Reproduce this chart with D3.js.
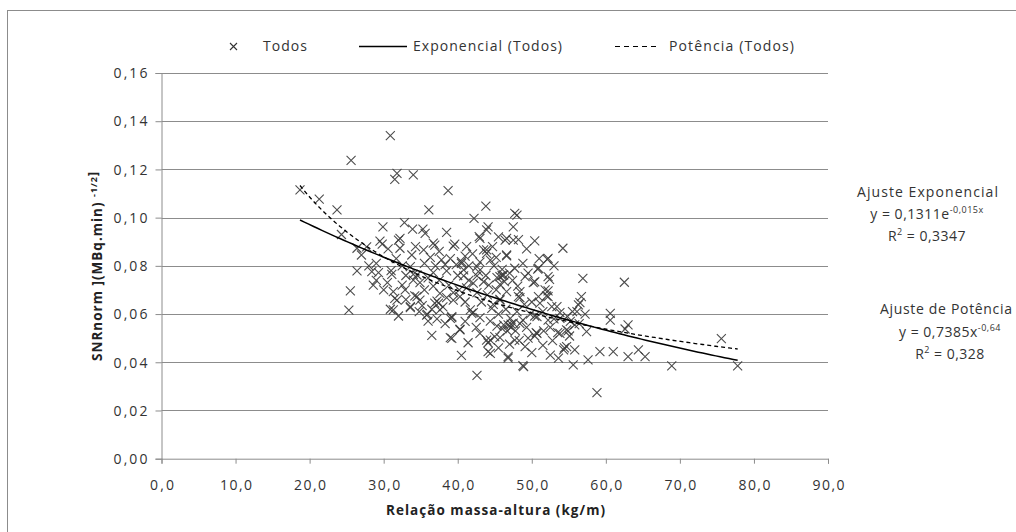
<!DOCTYPE html>
<html>
<head>
<meta charset="utf-8">
<script src="https://cdn.jsdelivr.net/npm/d3@7"></script>
<style>
  html, body { margin: 0; padding: 0; background: #fff; }
  svg { display: block; font-family: "Open Sans", "Noto Sans", sans-serif; }
</style>
</head>
<body>
<svg id="chart" width="1016" height="532"></svg>
<script>
// ---- Data ----
const xTicks = [0, 10, 20, 30, 40, 50, 60, 70, 80, 90];
const xTickLabels = ["0,0", "10,0", "20,0", "30,0", "40,0", "50,0", "60,0", "70,0", "80,0", "90,0"];
const yTicks = [0, 0.02, 0.04, 0.06, 0.08, 0.10, 0.12, 0.14, 0.16];
const yTickLabels = ["0,00", "0,02", "0,04", "0,06", "0,08", "0,10", "0,12", "0,14", "0,16"];

// massa-altura (kg/m)
const massaAltura = [
  18.7, 21.3, 23.7, 24.3, 25.6, 30.9, 31.8, 31.5, 34.0, 38.7, 36.1, 43.8, 42.2, 44.1, 43.9, 43.0,
  29.9, 32.8, 33.9, 35.3, 35.6, 38.5, 32.0, 29.5, 26.4, 27.7, 39.4, 36.9, 43.9, 46.4, 47.7, 48.0,
  47.5, 47.5, 50.4, 54.2, 52.2, 46.6, 48.2, 42.9, 32.2, 32.2, 39.6, 43.5, 35.4, 33.8, 36.7, 43.9,
  46.6, 52.1, 44.4, 40.5, 42.6, 46.6,
  26.4, 28.4, 29.3, 25.5, 25.3, 28.6, 31.1, 30.9, 32.0, 33.6, 36.5, 35.9, 36.0, 39.0, 40.3, 41.4,
  40.5, 42.6, 44.4, 44.1, 45.7, 39.2, 38.5, 37.2, 34.2, 34.9, 36.7, 39.4, 41.2, 42.6, 42.1, 43.0,
  44.4, 45.3, 45.7, 34.0, 36.7, 38.5, 40.8, 42.6, 45.3, 45.7,
  31.3, 31.5, 31.3, 34.9, 36.9, 37.6, 39.2, 43.9, 45.0, 46.8, 46.8,
  40.5, 45.7, 32.9, 33.6, 34.5, 34.0, 33.6, 34.5, 31.8,
  47.7, 50.9, 52.2, 46.0, 46.2, 49.1, 50.4, 40.8, 42.8, 42.1, 43.5, 48.4, 48.2, 50.9, 52.2, 51.1,
  52.7, 46.6, 45.7, 44.6, 39.4, 37.4, 35.8, 39.2, 47.1, 47.5, 46.2, 50.7, 52.2, 53.8, 41.7, 40.3, 37.6,
  39.0, 40.3, 41.9, 44.4, 44.1, 47.7, 49.1, 48.9, 48.8, 46.8, 50.7, 53.8, 54.7, 54.3, 53.6, 55.8,
  55.6, 55.8, 53.4,
  56.9, 62.5, 56.7, 56.3, 56.1, 60.6, 60.6, 63.0, 62.6, 57.4, 59.2, 61.0, 64.4, 65.3, 63.0, 57.6,
  68.9, 58.8, 54.7, 56.5, 75.6, 77.8, 53.5, 54.9, 55.1, 54.4, 52.4, 50.8, 52.2, 52.0, 50.4, 50.6,
  50.4, 53.8, 47.2, 48.1, 48.4, 50.2,
  35.5, 36.3, 37.0, 37.8, 38.3, 39.0, 39.8, 41.0, 41.5, 42.0, 43.0, 44.9, 45.2, 46.0, 47.0, 48.8,
  49.5, 46.3, 47.4, 45.2, 44.0, 43.2, 41.0, 38.0, 36.5, 35.2, 33.0, 32.5, 31.0, 30.5, 30.0, 29.0,
  35.5, 36.0, 37.5, 38.8, 40.0, 40.2, 41.5, 43.8, 44.2, 44.8, 45.5, 46.0, 46.7, 47.2, 47.8, 48.4,
  48.8, 49.3, 49.8, 48.0, 46.5, 49.0, 50.0, 51.5, 51.8, 53.0, 52.5, 51.6, 49.5, 48.3, 47.0, 45.5,
  43.0, 42.5, 41.0, 38.3, 37.2, 34.8, 33.0, 32.5, 31.7, 30.6, 29.0, 28.0, 27.0, 29.8, 34.3, 37.5,
  41.2, 44.7, 45.5, 49.3, 51.0, 53.0, 55.5, 54.8, 55.2, 56.4, 57.2, 52.8, 51.5, 50.0, 52.5
];
// SNRnorm
const snrNorm = [
  0.1115, 0.1077, 0.1032, 0.0930, 0.1238, 0.1340, 0.1184, 0.1159, 0.1177, 0.1112, 0.1032, 0.1048, 0.0997, 0.0962, 0.0949, 0.0914,
  0.0962, 0.0979, 0.0952, 0.0952, 0.0935, 0.0939, 0.0907, 0.0903, 0.0873, 0.0879, 0.0882, 0.0886, 0.0866, 0.0907, 0.1018, 0.1010,
  0.0962, 0.0907, 0.0904, 0.0873, 0.0831, 0.0914, 0.0909, 0.0921, 0.0914, 0.0873, 0.0890, 0.0866, 0.0866, 0.0845, 0.0894, 0.0852,
  0.0841, 0.0827, 0.0824, 0.0817, 0.0797, 0.0845,
  0.0779, 0.0776, 0.0772, 0.0696, 0.0616, 0.0720, 0.0765, 0.0620, 0.0592, 0.0627, 0.0512, 0.0599, 0.0571, 0.0502, 0.0537, 0.0481,
  0.0429, 0.0346, 0.0437, 0.0481, 0.0502, 0.0585, 0.0668, 0.0654, 0.0675, 0.0730, 0.0716, 0.0689, 0.0709, 0.0689, 0.0606, 0.0585,
  0.0571, 0.0550, 0.0661, 0.0765, 0.0772, 0.0779, 0.0758, 0.0758, 0.0751, 0.0723,
  0.0693, 0.0665, 0.0617, 0.0658, 0.0645, 0.0617, 0.0499, 0.0492, 0.0506, 0.0423, 0.0555,
  0.0810, 0.0755, 0.0700, 0.0631, 0.0672, 0.0741, 0.0797, 0.0762, 0.0658,
  0.0790, 0.0790, 0.0755, 0.0760, 0.0762, 0.0755, 0.0734, 0.0783, 0.0776, 0.0728, 0.0734, 0.0693, 0.0672, 0.0672, 0.0672, 0.0645,
  0.0631, 0.0693, 0.0658, 0.0624, 0.0658, 0.0645, 0.0596, 0.0589, 0.0582, 0.0562, 0.0555, 0.0589, 0.0575, 0.0582, 0.0617, 0.0672, 0.0686,
  0.0582, 0.0534, 0.0603, 0.0492, 0.0444, 0.0492, 0.0465, 0.0382, 0.0386, 0.0417, 0.0520, 0.0520, 0.0534, 0.0451, 0.0417, 0.0451,
  0.0389, 0.0555, 0.0631,
  0.0748, 0.0732, 0.0672, 0.0638, 0.0610, 0.0603, 0.0575, 0.0555, 0.0538, 0.0527, 0.0444, 0.0444, 0.0451, 0.0423, 0.0423, 0.0410,
  0.0385, 0.0274, 0.0465, 0.0647, 0.0498, 0.0385, 0.0523, 0.0530, 0.0509, 0.0460, 0.0744, 0.0786, 0.0696, 0.0675, 0.0592, 0.0523,
  0.0509, 0.0606, 0.0558, 0.0716, 0.0668, 0.0730,
  0.0810, 0.0835, 0.0800, 0.0825, 0.0805, 0.0830, 0.0805, 0.0840, 0.0800, 0.0850, 0.0815, 0.0800, 0.0835, 0.0785, 0.0770, 0.0810,
  0.0770, 0.0735, 0.0740, 0.0700, 0.0680, 0.0650, 0.0650, 0.0630, 0.0620, 0.0635, 0.0660, 0.0720, 0.0780, 0.0730, 0.0700, 0.0740,
  0.0700, 0.0750, 0.0740, 0.0720, 0.0760, 0.0700, 0.0740, 0.0760, 0.0720, 0.0640, 0.0600, 0.0540, 0.0530, 0.0545, 0.0530, 0.0560,
  0.0575, 0.0545, 0.0600, 0.0610, 0.0620, 0.0640, 0.0650, 0.0610, 0.0700, 0.0580, 0.0545, 0.0530, 0.0500, 0.0490, 0.0475, 0.0460,
  0.0520, 0.0545, 0.0570, 0.0560, 0.0580, 0.0610, 0.0760, 0.0800, 0.0830, 0.0870, 0.0810, 0.0800, 0.0845, 0.0890, 0.0880, 0.0860,
  0.0880, 0.0880, 0.0920, 0.0870, 0.0830, 0.0800, 0.0610, 0.0590, 0.0570, 0.0560, 0.0600, 0.0490, 0.0470, 0.0440, 0.0430
];

// Trend line coefficients (from the chart annotations)
const expA = 0.1311, expB = -0.015;   // y = a e^(b x)
const powA = 0.7385, powB = -0.64;    // y = a x^b

const legendLabels = ["Todos", "Exponencial (Todos)", "Potência (Todos)"];
const xTitle = "Relação  massa-altura  (kg/m)";

// ---- Drawing ----
const svg = d3.select("#chart");
const textColor = "#333";
const gridColor = "#8c8c8c";

const x = d3.scaleLinear().domain([0, 90]).range([161.5, 828]);
const y = d3.scaleLinear().domain([0, 0.16]).range([458.7, 73]);

// outer chart border (runs off the picture on the right and bottom)
svg.append("rect")
  .attr("x", 7.5).attr("y", 10.5).attr("width", 1100).attr("height", 600)
  .attr("fill", "none").attr("stroke", gridColor).attr("stroke-width", 1);

// gridlines
svg.append("g")
  .selectAll("line").data(yTicks.slice(1)).join("line")
  .attr("x1", x(0)).attr("x2", x(90))
  .attr("y1", d => Math.round(y(d)) + 0.5).attr("y2", d => Math.round(y(d)) + 0.5)
  .attr("stroke", gridColor).attr("stroke-width", 1);

// y axis
const yAxis = svg.append("g")
  .attr("transform", `translate(${x(0)},0)`)
  .call(d3.axisLeft(y).tickValues(yTicks).tickSize(6).tickPadding(8)
    .tickFormat((d, i) => yTickLabels[i]));
yAxis.select(".domain").attr("stroke", gridColor);
yAxis.selectAll(".tick line").attr("stroke", gridColor);
yAxis.selectAll("text").attr("fill", textColor).attr("font-size", 14)
  .attr("font-family", "Open Sans").attr("textLength", 34).attr("lengthAdjust", "spacing")
  .attr("dy", "0.34em");

// x axis
const xAxis = svg.append("g")
  .attr("transform", `translate(0,${y(0)})`)
  .call(d3.axisBottom(x).tickValues(xTicks).tickSize(5)
    .tickFormat((d, i) => xTickLabels[i]));
xAxis.select(".domain").attr("stroke", gridColor);
xAxis.selectAll(".tick line").attr("stroke", gridColor);
xAxis.selectAll("text").attr("fill", textColor).attr("font-size", 14)
  .attr("font-family", "Open Sans").attr("y", 31).attr("dy", 0)
  .attr("textLength", (d, i) => xTickLabels[i].length === 3 ? 24 : 32).attr("lengthAdjust", "spacing");

// scatter markers (x)
const xMark = "M-4.5,-4.5L4.5,4.5M-4.5,4.5L4.5,-4.5";
svg.append("g")
  .selectAll("path").data(massaAltura.map((v, i) => [v, snrNorm[i]])).join("path")
  .attr("d", xMark)
  .attr("transform", d => `translate(${x(d[0])},${y(d[1])})`)
  .attr("fill", "none").attr("stroke", "#3a3a3a").attr("stroke-width", 1.1).attr("stroke-opacity", 0.9);

// trend lines
const xMin = d3.min(massaAltura), xMax = d3.max(massaAltura);
const xs = d3.range(0, 101).map(i => xMin + (xMax - xMin) * i / 100);
const line = d3.line().x(d => x(d[0])).y(d => y(d[1]));
svg.append("path")
  .attr("d", line(xs.map(v => [v, expA * Math.exp(expB * v)])))
  .attr("fill", "none").attr("stroke", "#000").attr("stroke-width", 1.5);
svg.append("path")
  .attr("d", line(xs.map(v => [v, powA * Math.pow(v, powB)])))
  .attr("fill", "none").attr("stroke", "#000").attr("stroke-width", 1.3)
  .attr("stroke-dasharray", "4,3");

// legend
const lg = svg.append("g").attr("font-size", 14).attr("fill", textColor);
lg.append("path").attr("d", "M-3.5,-3.5L3.5,3.5M-3.5,3.5L3.5,-3.5")
  .attr("transform", "translate(233.5,46.5)").attr("stroke", "#333").attr("stroke-width", 1.1);
lg.append("text").attr("x", 263).attr("y", 51).attr("textLength", 44).attr("lengthAdjust", "spacing").text(legendLabels[0]);
lg.append("line").attr("x1", 359).attr("x2", 407).attr("y1", 46.5).attr("y2", 46.5).attr("stroke", "#000").attr("stroke-width", 1.3);
lg.append("text").attr("x", 413).attr("y", 51).attr("textLength", 149).attr("lengthAdjust", "spacing").text(legendLabels[1]);
lg.append("line").attr("x1", 615).attr("x2", 660).attr("y1", 46.5).attr("y2", 46.5).attr("stroke", "#000").attr("stroke-width", 1.2).attr("stroke-dasharray", "5,4");
lg.append("text").attr("x", 669).attr("y", 51).attr("textLength", 125).attr("lengthAdjust", "spacing").text(legendLabels[2]);

// axis titles
svg.append("text").attr("x", 495.5).attr("y", 515).attr("text-anchor", "middle")
  .attr("font-weight", "bold").attr("font-size", 13.5).attr("fill", "#222")
  .attr("textLength", 219).attr("lengthAdjust", "spacing").text(xTitle);

const yt = svg.append("text")
  .attr("transform", "translate(101.5,266) rotate(-90)")
  .attr("text-anchor", "middle").attr("font-weight", "bold").attr("font-size", 13.5)
  .attr("letter-spacing", 1).attr("fill", "#222");
yt.append("tspan").text("SNRnorm ](MBq.min) ");
yt.append("tspan").attr("dy", -5).attr("font-size", 9).text("-1/2");
yt.append("tspan").attr("dy", 0).attr("font-size", 12).text("]");

// fit annotations
const ann = svg.append("g").attr("font-size", 14).attr("fill", textColor);
ann.append("text").attr("x", 927.5).attr("y", 196.5).attr("text-anchor", "middle")
  .attr("textLength", 141).attr("lengthAdjust", "spacing").text("Ajuste Exponencial");
const e1 = ann.append("text").attr("x", 927).attr("y", 218.5).attr("text-anchor", "middle").attr("letter-spacing", 0.5);
e1.append("tspan").text("y = 0,1311e");
e1.append("tspan").attr("dy", -6).attr("font-size", 9).text("-0,015x");
const r1 = ann.append("text").attr("x", 927).attr("y", 241).attr("text-anchor", "middle").attr("letter-spacing", 0.5);
r1.append("tspan").text("R");
r1.append("tspan").attr("dy", -6).attr("font-size", 9).text("2");
r1.append("tspan").attr("dy", 6).text(" = 0,3347");

ann.append("text").attr("x", 880).attr("y", 314)
  .attr("textLength", 132).attr("lengthAdjust", "spacing").text("Ajuste de Potência");
const e2 = ann.append("text").attr("x", 950).attr("y", 336.5).attr("text-anchor", "middle").attr("letter-spacing", 0.5);
e2.append("tspan").text("y = 0,7385x");
e2.append("tspan").attr("dy", -6).attr("font-size", 9).text("-0,64");
const r2 = ann.append("text").attr("x", 950).attr("y", 358.5).attr("text-anchor", "middle").attr("letter-spacing", 0.5);
r2.append("tspan").text("R");
r2.append("tspan").attr("dy", -6).attr("font-size", 9).text("2");
r2.append("tspan").attr("dy", 6).text(" = 0,328");
</script>
</body>
</html>
